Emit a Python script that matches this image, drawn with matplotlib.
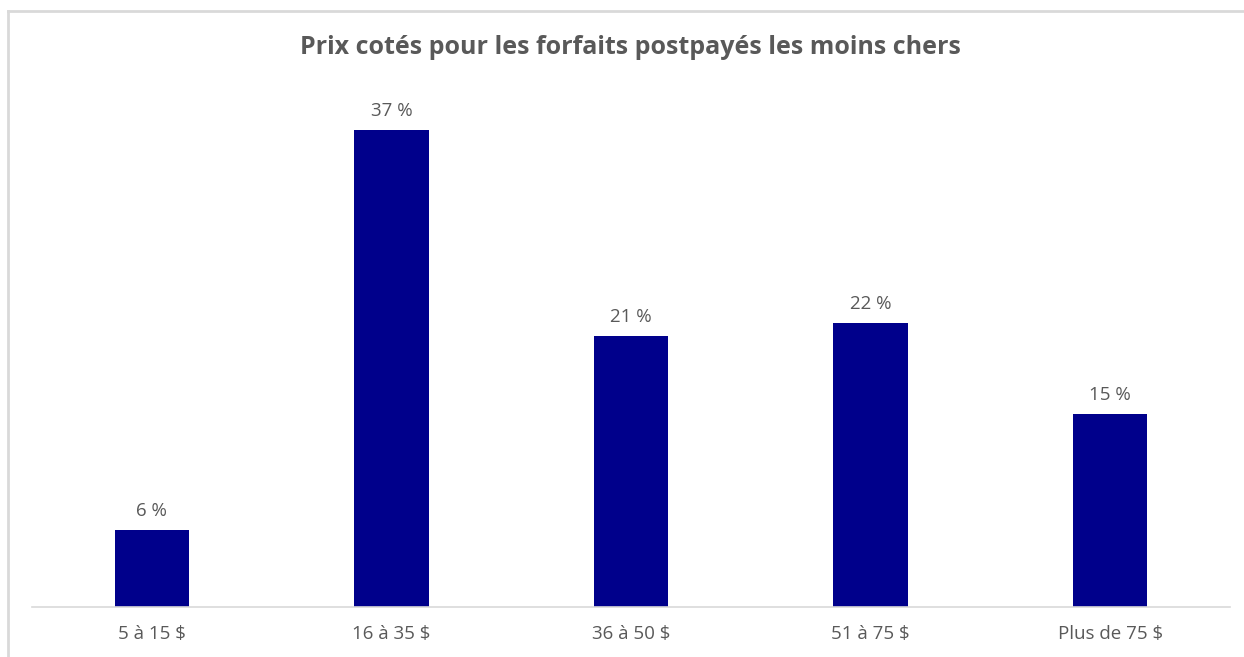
import matplotlib.pyplot as plt
from matplotlib.lines import Line2D

categories = ["5 à 15 $", "16 à 35 $", "36 à 50 $", "51 à 75 $", "Plus de 75 $"]
values = [6, 37, 21, 22, 15]
title = "Prix cotés pour les forfaits postpayés les moins chers"

text_color = "#595959"
bar_color = "#00008B"

plt.rcParams['font.family'] = ['Open Sans', 'DejaVu Sans']

fig = plt.figure(figsize=(12.44, 6.57), dpi=100)
ax = fig.add_axes([32 / 1244, 50 / 657, 1198 / 1244, 516 / 657])

x = range(len(categories))
ax.bar(x, values, width=0.31, color=bar_color)
for i, v in zip(x, values):
    ax.annotate(f"{v} %", (i, v), xytext=(0, 7), textcoords="offset points",
                ha="center", va="bottom", fontsize=13.5, color=text_color)

ax.set_xlim(-0.5, len(categories) - 0.5)
ax.set_ylim(0, 40)
ax.set_xticks(list(x))
ax.set_xticklabels(categories, fontsize=13.5, color=text_color)
ax.tick_params(axis="x", length=0, pad=13)
ax.set_yticks([])
for side in ["top", "right", "left"]:
    ax.spines[side].set_visible(False)
ax.spines["bottom"].set_color("#d9d9d9")
ax.spines["bottom"].set_linewidth(1.2)

fig.text(630 / 1244, 1 - 47 / 657, title, ha="center", va="center", fontsize=18,
         fontweight="bold", color=text_color)

# outer frame (left and top edges visible)
fig.add_artist(Line2D([8 / 1244, 8 / 1244], [0, 1 - 11 / 657], color="#d9d9d9", lw=2))
fig.add_artist(Line2D([8 / 1244, 1], [1 - 11 / 657, 1 - 11 / 657], color="#d9d9d9", lw=2))

fig.savefig("out.png", dpi=100)
